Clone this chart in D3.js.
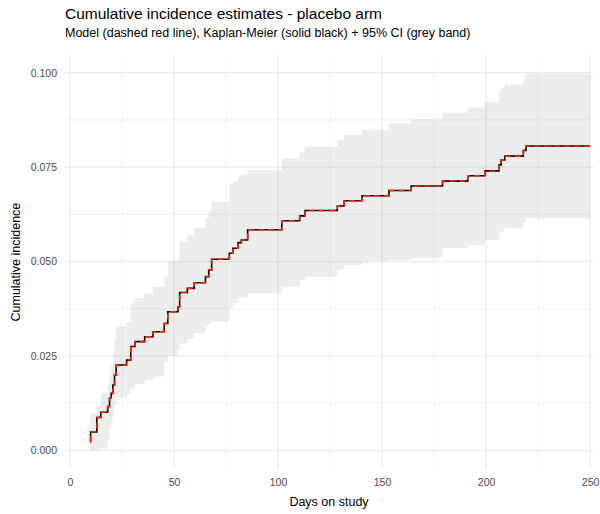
<!DOCTYPE html>
<html>
<head>
<meta charset="utf-8">
<script src="https://cdn.jsdelivr.net/npm/d3@7"></script>
<style>
  body { margin: 0; background: #fff; }
  svg { display: block; font-family: "Liberation Sans", Arial, sans-serif; }
</style>
</head>
<body>
<div id="chart"></div>
<script>
// event times (days) and estimates
const days = [9.6, 9.9, 12.9, 14.8, 18.1, 19.0, 19.8, 20.6, 21.4, 22.2, 27.2, 29.2, 31.3, 35.9, 39.9,
  45.3, 47.0, 51.9, 52.7, 56.4, 59.7, 65.1, 66.7, 68.1, 76.6, 78.3, 80.8, 82.4, 85.4, 101.8,
  110.4, 112.9, 128.5, 131.8, 140.4, 153.3, 164.0, 179.1, 191.2, 199.4, 206.3, 207.2, 209.0, 217.9, 219.2, 250];
const kmInc = [0.0023, 0.0049, 0.0087, 0.0101, 0.0116, 0.0138, 0.0151, 0.0173, 0.0200, 0.0226, 0.0239, 0.0275, 0.0288, 0.0301, 0.0314,
  0.0336, 0.0367, 0.0380, 0.0418, 0.0429, 0.0444, 0.0460, 0.0478, 0.0506, 0.0522, 0.0535, 0.0550, 0.0557, 0.0584, 0.0608,
  0.0621, 0.0635, 0.0647, 0.0661, 0.0674, 0.0688, 0.0700, 0.0713, 0.0727, 0.0740, 0.0756, 0.0769, 0.0779, 0.0794, 0.0806, 0.0806];
const modelInc = kmInc.slice();
const ciLower = [0.0000, 0.0000, 0.0000, 0.0005, 0.0027, 0.0063, 0.0075, 0.0095, 0.0124, 0.0140, 0.0150, 0.0164, 0.0175, 0.0186, 0.0195,
  0.0235, 0.0250, 0.0266, 0.0283, 0.0295, 0.0310, 0.0328, 0.0335, 0.0341, 0.0376, 0.0389, 0.0400, 0.0405, 0.0416, 0.0433,
  0.0451, 0.0460, 0.0478, 0.0491, 0.0500, 0.0504, 0.0510, 0.0535, 0.0544, 0.0557, 0.0575, 0.0580, 0.0588, 0.0603, 0.0614, 0.0614];
const ciUpper = [0.0085, 0.0098, 0.0116, 0.0151, 0.0173, 0.0200, 0.0230, 0.0260, 0.0295, 0.0328, 0.0340, 0.0390, 0.0403, 0.0415, 0.0433,
  0.0460, 0.0500, 0.0510, 0.0553, 0.0570, 0.0590, 0.0615, 0.0635, 0.0659, 0.0703, 0.0712, 0.0725, 0.0730, 0.0742, 0.0773,
  0.0790, 0.0804, 0.0822, 0.0835, 0.0848, 0.0866, 0.0877, 0.0894, 0.0908, 0.0923, 0.0950, 0.0960, 0.0968, 0.0985, 0.0997, 0.0997];

const xTicks = [0, 50, 100, 150, 200, 250];
const yTicks = [0, 0.025, 0.05, 0.075, 0.1];

const width = 600, height = 514;
const panel = { left: 65, right: 593, top: 55, bottom: 469.2 };

const svg = d3.select("#chart").append("svg")
    .attr("width", width)
    .attr("height", height);

const x = d3.scaleLinear().domain([-2.4, 251.4]).range([panel.left, panel.right]);
const y = d3.scaleLinear().domain([-0.004985, 0.104685]).range([panel.bottom, panel.top]);

// grid (minor then major)
const grid = svg.append("g");
const xMinor = d3.range(25, 250, 50);
const yMinor = d3.range(0.0125, 0.1, 0.025);
grid.selectAll(".xminor").data(xMinor).enter().append("line")
    .attr("x1", d => x(d)).attr("x2", d => x(d))
    .attr("y1", panel.top).attr("y2", panel.bottom)
    .style("stroke", "#ebebeb").style("stroke-width", 0.8);
grid.selectAll(".yminor").data(yMinor).enter().append("line")
    .attr("x1", panel.left).attr("x2", panel.right)
    .attr("y1", d => y(d)).attr("y2", d => y(d))
    .style("stroke", "#ebebeb").style("stroke-width", 0.8);
grid.selectAll(".xmajor").data(xTicks).enter().append("line")
    .attr("x1", d => x(d)).attr("x2", d => x(d))
    .attr("y1", panel.top).attr("y2", panel.bottom)
    .style("stroke", "#ebebeb").style("stroke-width", 1.3);
grid.selectAll(".ymajor").data(yTicks).enter().append("line")
    .attr("x1", panel.left).attr("x2", panel.right)
    .attr("y1", d => y(d)).attr("y2", d => y(d))
    .style("stroke", "#ebebeb").style("stroke-width", 1.3);

const rows = days.map((d, i) => ({ t: d, km: kmInc[i], model: modelInc[i], lo: ciLower[i], hi: ciUpper[i] }));

// confidence band
svg.append("path")
    .datum(rows)
    .attr("d", d3.area().curve(d3.curveStepAfter)
        .x(d => x(d.t)).y0(d => y(d.lo)).y1(d => y(d.hi)))
    .style("fill", "#b3b3b3")
    .style("fill-opacity", 0.23);

// Kaplan-Meier
svg.append("path")
    .datum(rows)
    .attr("d", d3.line().curve(d3.curveStepAfter).x(d => x(d.t)).y(d => y(d.km)))
    .style("fill", "none")
    .style("stroke", "#000")
    .style("stroke-width", 1.6);

// model
svg.append("path")
    .datum(rows)
    .attr("d", d3.line().curve(d3.curveStepAfter).x(d => x(d.t)).y(d => y(d.model)))
    .style("fill", "none")
    .style("stroke", "#ff2200")
    .style("stroke-width", 1.5)
    .style("stroke-dasharray", "6,4");

// axes (text only, like theme_minimal)
const xAxis = svg.append("g")
    .attr("transform", `translate(0,${panel.bottom})`)
    .call(d3.axisBottom(x).tickValues(xTicks).tickSize(0).tickPadding(9).tickFormat(d3.format("d")));
xAxis.select(".domain").remove();
xAxis.selectAll("text").style("font-size", "10.5px").style("fill", "#4d4d4d")
    .style("font-family", "'Liberation Sans', Arial, sans-serif");

const yAxis = svg.append("g")
    .attr("transform", `translate(${panel.left},0)`)
    .call(d3.axisLeft(y).tickValues(yTicks).tickSize(0).tickPadding(8).tickFormat(d3.format(".3f")));
yAxis.select(".domain").remove();
yAxis.selectAll("text").style("font-size", "10.5px").style("fill", "#4d4d4d")
    .style("font-family", "'Liberation Sans', Arial, sans-serif");

svg.append("text")
    .attr("x", (panel.left + panel.right) / 2)
    .attr("y", 506)
    .attr("text-anchor", "middle")
    .style("font-size", "12.5px")
    .text("Days on study");

svg.append("text")
    .attr("transform", `translate(20,${(panel.top + panel.bottom) / 2}) rotate(-90)`)
    .attr("text-anchor", "middle")
    .style("font-size", "12.5px")
    .text("Cumulative incidence");

svg.append("text")
    .attr("x", panel.left)
    .attr("y", 19)
    .style("font-size", "15.5px")
    .text("Cumulative incidence estimates - placebo arm");

svg.append("text")
    .attr("x", panel.left)
    .attr("y", 37)
    .style("font-size", "12.5px")
    .text("Model (dashed red line), Kaplan-Meier (solid black) + 95% CI (grey band)");
</script>
</body>
</html>
